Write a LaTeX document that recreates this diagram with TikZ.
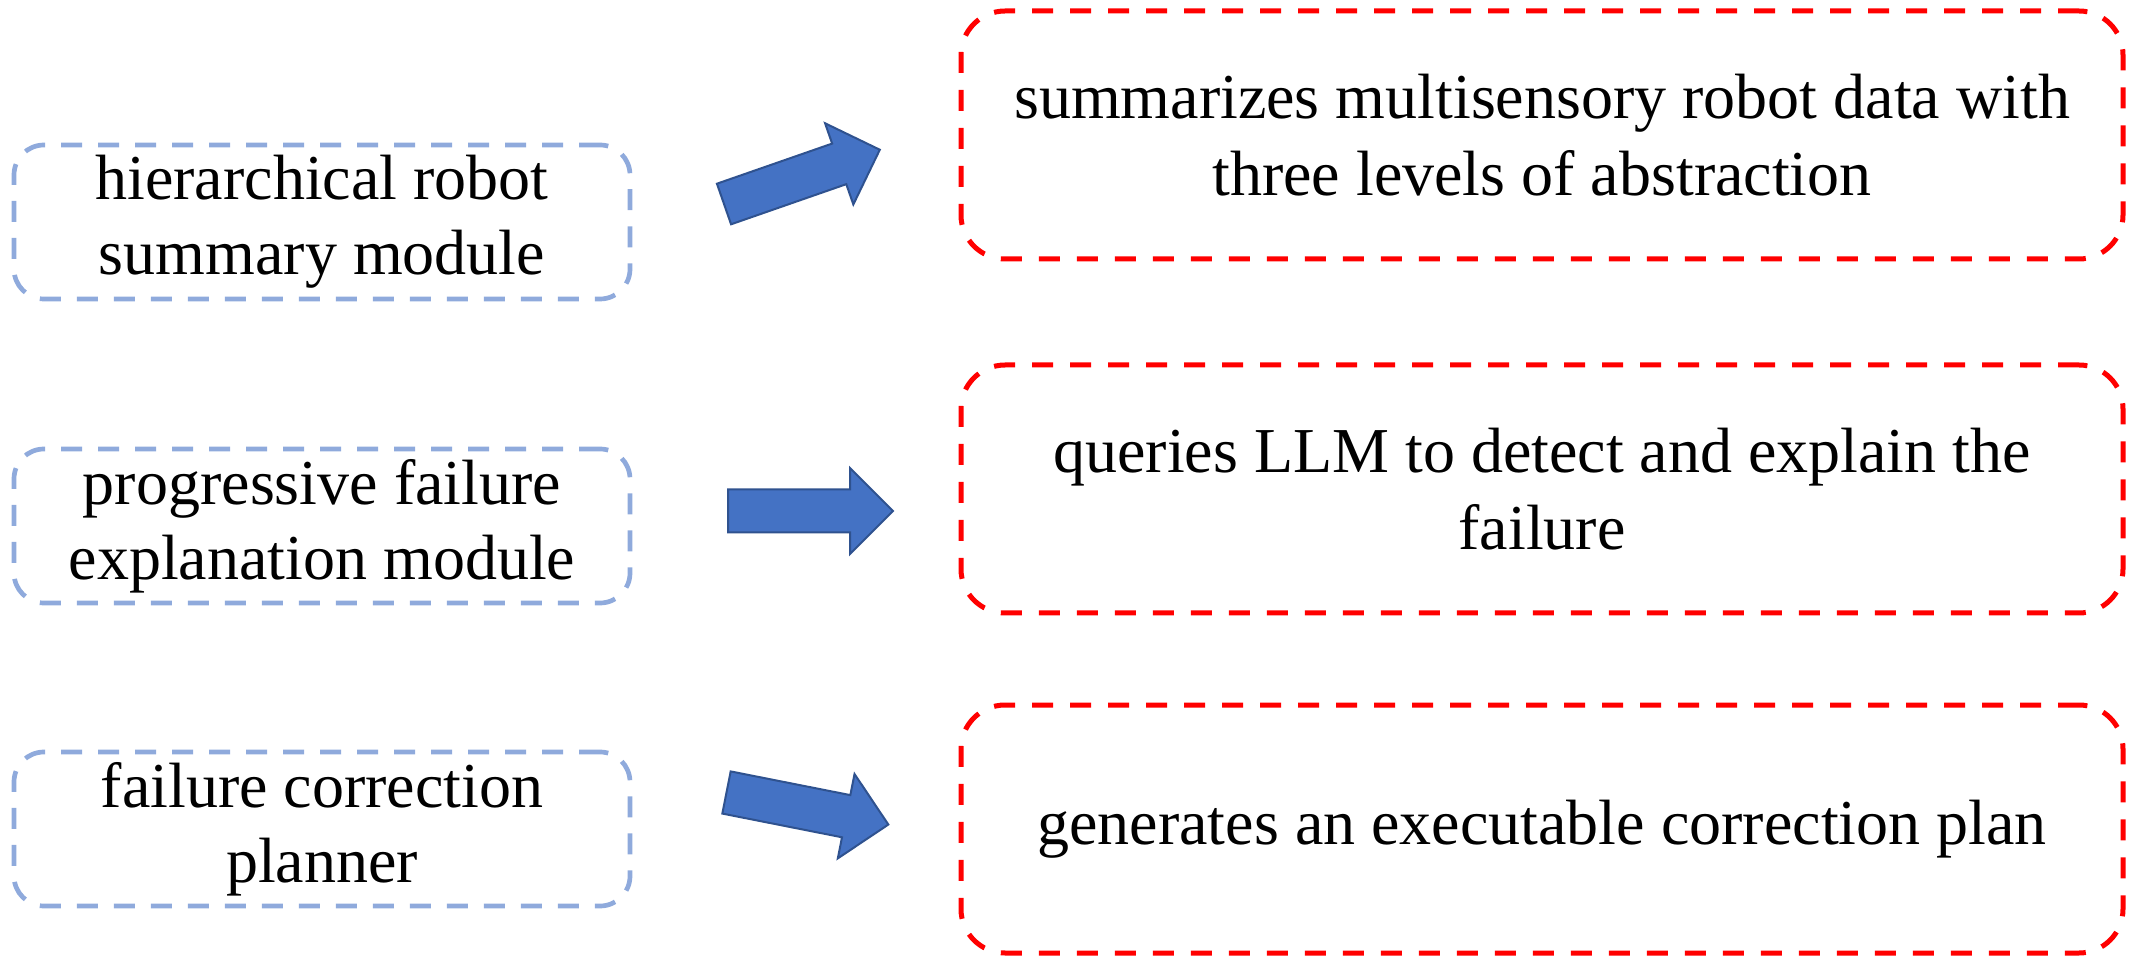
\documentclass[tikz,border=0pt]{standalone}
\usepackage{fontspec}
\setmainfont{Liberation Serif}
\usepackage{tikz}
\usetikzlibrary{shapes.arrows}

\definecolor{modblue}{HTML}{8FAADC}
\definecolor{arrfill}{HTML}{4472C4}
\definecolor{arrline}{HTML}{2F528F}

\begin{document}
\begin{tikzpicture}[
  x=0.5pt, y=-0.5pt,
  module/.style={draw=modblue, line width=2.35pt, dash pattern=on 10.5pt off 8pt, rounded corners=15pt,
    minimum width=308pt, minimum height=77pt, align=center, inner sep=0pt,
    font=\fontsize{32}{37.5}\selectfont},
  desc/.style={draw=red, line width=2.5pt, dash pattern=on 10.5pt off 8.5pt, rounded corners=22pt,
    minimum width=581pt, minimum height=124pt, align=center, inner sep=0pt,
    font=\fontsize{32}{38.5}\selectfont},
  blockarr/.style={single arrow, fill=arrfill, draw=arrline, line width=1pt, minimum height=82.5pt,
    inner xsep=0pt, inner ysep=10.25pt, single arrow head extend=10.75pt, outer sep=0pt, anchor=tail}
]
\useasboundingbox (0,0) rectangle (2131,956);

\node[module] (hier) at (322,222) {hierarchical robot\\summary module};
\node[module] (pfe) at (322,526) {progressive failure\\explanation module};
\node[module] (fcp) at (322,829) {failure correction\\planner};

\node[desc] (sumdesc) at (1542,135) {summarizes multisensory robot data with\\three levels of abstraction};
\node[desc] (expdesc) at (1542,489) {queries LLM to detect and explain the\\failure};
\node[desc] (plandesc) at (1542,829) {generates an executable correction plan};

% block arrows between the columns
\node[blockarr, rotate=19.2] (a1) at (724,204) {};
\node[blockarr] (a2) at (728,511) {};
\node[blockarr, rotate=-11.2] (a3) at (726.5,792.5) {};
\end{tikzpicture}
\end{document}
